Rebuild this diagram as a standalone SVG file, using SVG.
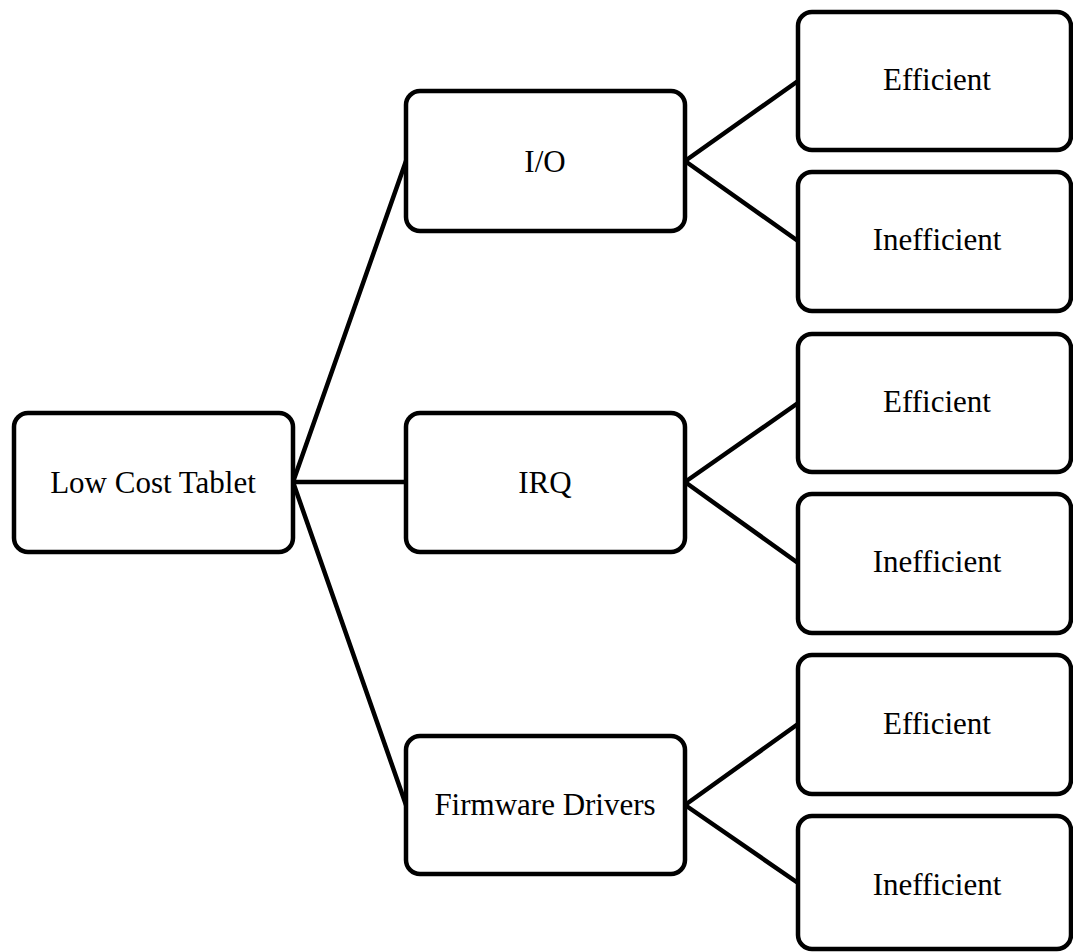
<svg xmlns="http://www.w3.org/2000/svg" width="1073" height="952" viewBox="0 0 1073 952">
<style>
.box{fill:#fff;stroke:#000;stroke-width:4.5;}
.lbl{font-family:"Liberation Serif","Times New Roman",serif;font-size:31px;fill:#000;text-anchor:middle;}
.con{stroke:#000;stroke-width:4.5;fill:none;stroke-linecap:round;}
</style>
<rect width="1073" height="952" fill="#fff"/>
<g id="connectors">
<line class="con" x1="293" y1="482" x2="406" y2="161"/>
<line class="con" x1="293" y1="482" x2="406" y2="482"/>
<line class="con" x1="293" y1="482" x2="406" y2="805"/>
<line class="con" x1="685" y1="161" x2="798" y2="81"/>
<line class="con" x1="685" y1="161" x2="798" y2="241"/>
<line class="con" x1="685" y1="482" x2="798" y2="403"/>
<line class="con" x1="685" y1="482" x2="798" y2="563"/>
<line class="con" x1="685" y1="805" x2="798" y2="724"/>
<line class="con" x1="685" y1="805" x2="798" y2="883"/>
</g>
<g id="root"><rect class="box" x="14" y="413" width="279" height="139" rx="14"/><text class="lbl" x="153" y="493">Low Cost Tablet</text></g>
<g id="io"><rect class="box" x="406" y="91" width="279" height="140" rx="14"/><text class="lbl" x="545" y="172">I/O</text></g>
<g id="irq"><rect class="box" x="406" y="413" width="279" height="139" rx="14"/><text class="lbl" x="545" y="493">IRQ</text></g>
<g id="fw"><rect class="box" x="406" y="736" width="279" height="138" rx="14"/><text class="lbl" x="545" y="815">Firmware Drivers</text></g>
<g id="io-eff"><rect class="box" x="798" y="12" width="273" height="138" rx="14"/><text class="lbl" x="937" y="90">Efficient</text></g>
<g id="io-ineff"><rect class="box" x="798" y="172" width="273" height="139" rx="14"/><text class="lbl" x="937" y="250">Inefficient</text></g>
<g id="irq-eff"><rect class="box" x="798" y="334" width="273" height="138" rx="14"/><text class="lbl" x="937" y="412">Efficient</text></g>
<g id="irq-ineff"><rect class="box" x="798" y="494" width="273" height="139" rx="14"/><text class="lbl" x="937" y="572">Inefficient</text></g>
<g id="fw-eff"><rect class="box" x="798" y="655" width="273" height="139" rx="14"/><text class="lbl" x="937" y="734">Efficient</text></g>
<g id="fw-ineff"><rect class="box" x="798" y="816" width="273" height="133" rx="14"/><text class="lbl" x="937" y="895">Inefficient</text></g>
</svg>
